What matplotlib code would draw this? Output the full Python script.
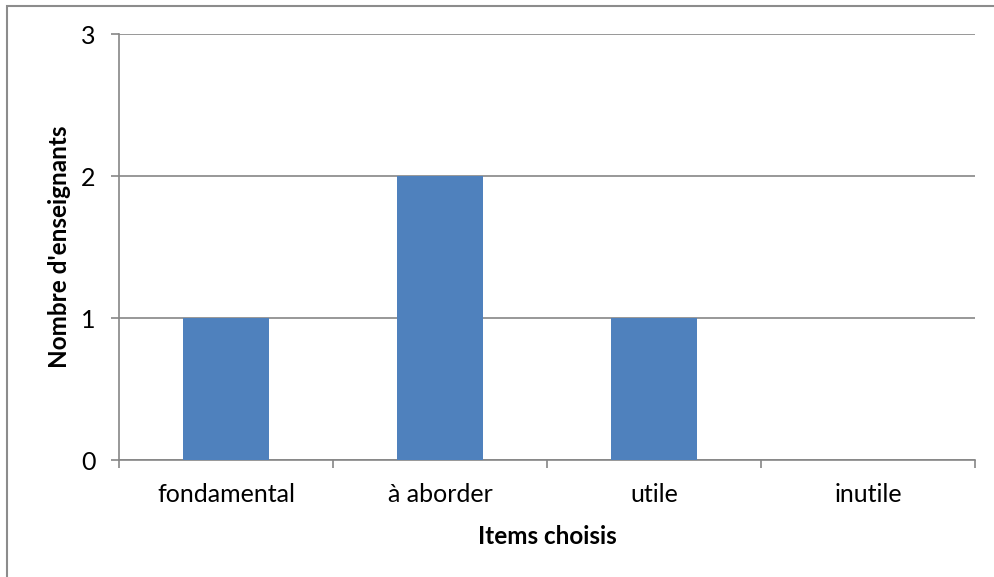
import matplotlib.pyplot as plt
import matplotlib.patches as mpatches
import numpy as np

# Data
categories = ['fondamental', 'à aborder', 'utile', 'inutile']
counts = [1, 2, 1, 0]
y_ticks = [0, 1, 2, 3]

plt.rcParams['font.family'] = ['Lato', 'DejaVu Sans']

fig = plt.figure(figsize=(9.95, 5.77), dpi=100)
ax = fig.add_axes([119 / 995, 117 / 577, 856 / 995, 426 / 577])

# Outer chart border
fig.patches.append(mpatches.Rectangle((7 / 995, -0.05), 1.1, (571 / 577) + 0.05,
                                      transform=fig.transFigure, fill=False,
                                      edgecolor='#8c8c8c', linewidth=1.5))

x = np.arange(len(categories))
ax.bar(x, counts, width=0.4, color='#4F81BD', zorder=3)

ax.set_xlim(-0.5, len(categories) - 0.5)
ax.set_ylim(0, 3)
ax.set_yticks(y_ticks)
ax.yaxis.grid(True, color='#868686', linewidth=1.2, zorder=0)

# Category labels centered, ticks at boundaries
ax.set_xticks(x)
ax.set_xticklabels(categories, fontsize=18)
ax.tick_params(axis='x', length=0, pad=16.5)
ax.set_xticks(np.arange(-0.5, len(categories)), minor=True)
ax.tick_params(axis='x', which='minor', length=6, color='#868686', width=1.2)
ax.tick_params(axis='y', length=6, color='#868686', width=1.2, labelsize=18, pad=11)

for s in ['top', 'right']:
    ax.spines[s].set_visible(False)
for s in ['left', 'bottom']:
    ax.spines[s].set_color('#868686')
    ax.spines[s].set_linewidth(1.2)

ax.set_xlabel('Items choisis', fontsize=17.5, fontweight='bold', labelpad=14)
ax.set_ylabel("Nombre d'enseignants", fontsize=17.5, fontweight='bold', labelpad=7)

fig.savefig('out.png', dpi=100)
